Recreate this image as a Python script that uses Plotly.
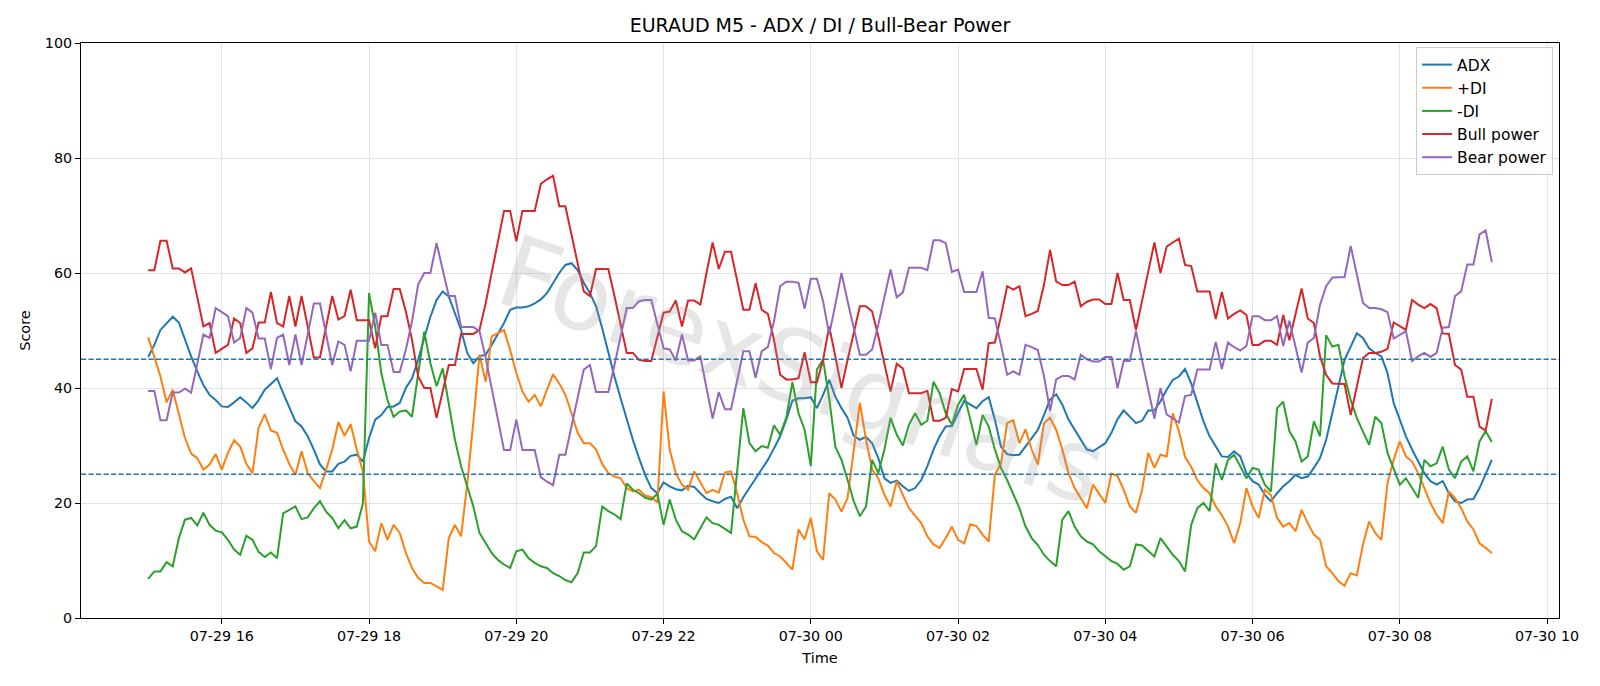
import pandas as pd
import plotly.graph_objects as go

start_time = "2024-07-29 15:00"
n_bars = 220
times = pd.date_range(start_time, periods=n_bars, freq="5min")

adx = [45.4, 47.5, 50.1, 51.2, 52.4, 51.4, 48.4, 45.5, 42.9, 40.5, 38.8, 37.9, 36.8, 36.7, 37.5, 38.4, 37.5, 36.5, 37.9, 39.7,
       40.7, 41.7, 39.1, 36.8, 34.2, 33.3, 31.6, 29.3, 26.7, 25.5, 25.5, 26.8, 27.2, 28.2, 28.4, 27.2, 31.3, 34.5, 35.3, 36.7,
       36.8, 37.4, 40.0, 41.7, 44.9, 48.7, 52.4, 55.3, 56.8, 55.9, 53.0, 50.1, 46.1, 44.3, 45.5, 45.8, 47.5, 49.5, 51.3, 53.6,
       54.0, 54.0, 54.2, 54.7, 55.4, 56.5, 58.2, 60.0, 61.4, 61.7, 60.5, 58.3, 56.5, 54.2, 50.4, 46.1, 42.0, 38.2, 34.5, 31.0,
       27.8, 24.9, 22.6, 21.7, 23.6, 22.9, 22.4, 22.2, 23.0, 22.8, 21.7, 20.7, 20.3, 20.0, 20.7, 21.1, 19.1, 21.0, 22.6, 24.2,
       25.8, 27.5, 29.5, 31.6, 34.5, 37.8, 38.2, 38.2, 38.4, 36.5, 38.8, 41.4, 38.5, 36.5, 34.8, 31.7, 31.0, 31.5, 30.4, 27.8,
       24.3, 23.5, 23.9, 22.9, 22.1, 22.6, 24.0, 26.4, 29.3, 31.6, 33.3, 33.4, 35.6, 37.8, 37.1, 36.5, 37.7, 38.4, 34.5, 29.8,
       28.5, 28.3, 28.4, 29.8, 31.3, 32.7, 35.3, 38.0, 38.9, 37.1, 34.5, 32.7, 31.0, 29.3, 29.0, 29.7, 30.4, 32.2, 34.6, 36.1,
       35.0, 33.9, 34.3, 36.1, 36.1, 37.7, 39.7, 41.4, 42.0, 43.3, 40.8, 37.7, 34.2, 31.6, 29.8, 28.1, 28.0, 29.0, 28.1, 25.2,
       23.8, 23.2, 21.4, 20.3, 21.7, 22.9, 23.8, 24.9, 24.3, 24.6, 26.1, 27.8, 31.0, 35.6, 40.3, 44.9, 47.2, 49.5, 48.7, 46.9,
       46.1, 45.5, 42.6, 37.4, 34.5, 31.6, 29.3, 27.2, 25.2, 23.8, 23.2, 23.8, 21.7, 20.3, 20.0, 20.6, 20.7, 22.6, 25.2, 27.5]

plus_di = [48.8, 45.5, 42.0, 37.5, 39.7, 35.5, 31.3, 28.6, 27.8, 25.8, 26.7, 28.5, 25.8, 28.7, 30.9, 29.8, 26.8, 25.2, 33.1, 35.4,
           32.6, 32.2, 29.3, 26.8, 24.9, 29.0, 25.2, 23.8, 22.6, 25.8, 29.3, 34.1, 31.7, 33.7, 29.3, 25.5, 13.3, 11.6, 16.5, 13.6,
           16.2, 14.8, 11.3, 8.7, 7.0, 6.1, 6.1, 5.5, 4.9, 13.9, 16.2, 14.2, 23.3, 34.1, 45.8, 41.1, 49.0, 49.5, 50.1, 46.6,
           42.6, 39.4, 37.6, 38.8, 36.8, 39.7, 42.4, 40.8, 38.8, 35.6, 32.2, 30.4, 30.4, 29.3, 26.8, 25.2, 24.6, 24.3, 22.6, 22.0,
           22.3, 21.3, 21.0, 20.1, 39.4, 29.3, 25.2, 23.2, 22.3, 25.5, 23.5, 21.7, 22.3, 21.8, 25.3, 25.5, 21.7, 17.1, 14.2, 14.1,
           13.2, 12.6, 11.3, 10.7, 9.6, 8.4, 15.4, 13.7, 17.4, 11.6, 10.1, 21.7, 20.6, 18.5, 20.9, 29.3, 37.4, 31.0, 25.8, 24.3,
           21.4, 19.4, 23.8, 21.4, 19.1, 17.8, 16.5, 14.2, 12.8, 12.2, 13.9, 15.9, 13.6, 13.0, 16.3, 16.0, 14.5, 13.3, 24.9, 26.9,
           33.9, 34.4, 30.4, 32.8, 29.3, 26.7, 33.9, 34.8, 32.7, 29.3, 25.2, 22.6, 20.9, 19.1, 23.2, 21.7, 20.0, 25.1, 24.7, 22.3,
           19.4, 18.3, 22.3, 28.7, 26.1, 28.4, 28.1, 35.6, 32.5, 28.0, 26.3, 24.0, 22.6, 21.7, 19.4, 17.9, 15.9, 13.0, 16.5, 22.6,
           19.4, 17.4, 22.3, 21.4, 17.4, 15.9, 16.5, 15.1, 18.8, 16.5, 14.5, 13.6, 9.0, 7.8, 6.4, 5.6, 7.8, 7.4, 12.8, 16.8,
           14.8, 13.6, 23.5, 27.5, 30.7, 28.1, 27.2, 25.2, 22.6, 20.0, 18.0, 16.5, 22.0, 20.9, 19.1, 16.8, 15.4, 13.0, 12.2, 11.3]

minus_di = [6.8, 8.1, 8.1, 9.7, 9.0, 13.9, 17.1, 17.4, 16.1, 18.3, 16.2, 15.2, 14.9, 13.6, 11.9, 11.0, 14.3, 13.6, 11.5, 10.6,
            11.4, 10.4, 18.2, 18.8, 19.4, 17.2, 17.5, 19.1, 20.3, 18.5, 17.4, 15.6, 17.0, 15.6, 15.9, 19.9, 56.5, 50.7, 42.6, 37.9,
            35.0, 35.9, 36.1, 35.0, 42.3, 49.8, 44.3, 40.3, 43.4, 37.1, 31.0, 26.4, 22.9, 19.4, 14.8, 13.0, 11.3, 10.1, 9.3, 8.7,
            11.6, 11.9, 10.4, 9.6, 9.0, 8.7, 7.8, 7.3, 6.6, 6.2, 7.8, 11.4, 11.4, 12.5, 19.4, 18.6, 18.0, 17.2, 23.4, 22.3,
            21.7, 20.9, 20.6, 21.6, 16.2, 20.6, 17.1, 15.1, 14.5, 13.7, 15.7, 17.5, 16.5, 16.2, 15.5, 14.8, 25.6, 36.5, 30.4, 29.0,
            29.9, 29.6, 33.5, 31.9, 34.8, 41.0, 35.6, 32.7, 26.4, 43.2, 44.9, 38.2, 29.8, 27.5, 24.0, 20.3, 17.7, 19.4, 27.5, 25.2,
            29.3, 34.8, 31.9, 30.0, 33.6, 35.6, 33.6, 34.3, 41.1, 39.1, 35.6, 33.6, 37.1, 38.8, 34.5, 30.1, 35.3, 33.3, 29.3, 26.1,
            24.0, 21.7, 19.1, 15.9, 13.9, 12.7, 11.0, 9.9, 9.0, 17.1, 18.6, 15.9, 14.2, 13.3, 12.8, 11.6, 10.7, 9.9, 9.4, 8.4,
            9.0, 12.8, 12.6, 11.6, 10.7, 13.9, 12.5, 11.0, 9.9, 8.1, 16.2, 19.1, 20.0, 18.6, 26.9, 24.0, 27.5, 28.4, 26.4, 24.3,
            26.1, 25.8, 23.2, 22.0, 36.5, 37.6, 32.5, 30.7, 27.2, 28.1, 34.2, 31.6, 49.2, 47.2, 47.5, 42.0, 37.9, 34.8, 32.4, 30.1,
            35.0, 33.9, 28.7, 25.8, 23.2, 24.3, 22.6, 20.9, 27.5, 26.4, 26.9, 29.8, 25.8, 24.3, 27.2, 28.1, 25.5, 30.7, 32.5, 30.6]

bull_power = [60.5, 60.5, 65.6, 65.6, 60.8, 60.8, 60.1, 60.8, 55.8, 50.7, 51.3, 46.1, 46.8, 47.5, 52.1, 51.3, 46.1, 46.9, 51.4, 51.4,
              56.7, 51.3, 50.7, 56.0, 50.7, 56.0, 50.7, 45.3, 45.3, 50.7, 56.0, 51.9, 52.5, 57.1, 51.8, 51.8, 51.8, 46.9, 52.5, 52.5,
              57.2, 57.2, 53.3, 48.4, 42.0, 40.0, 40.0, 34.8, 39.7, 44.0, 44.0, 49.4, 49.4, 49.4, 50.1, 54.7, 60.1, 65.3, 70.8, 70.8,
              65.5, 70.8, 70.8, 70.8, 75.5, 76.3, 76.9, 71.6, 71.6, 66.9, 61.7, 56.8, 56.0, 60.7, 60.7, 60.7, 56.0, 51.0, 46.1, 46.1,
              44.9, 44.7, 44.7, 48.9, 53.1, 53.3, 55.2, 50.7, 55.2, 55.2, 54.5, 60.0, 65.3, 60.7, 63.7, 63.7, 58.5, 53.6, 53.6, 58.2,
              53.6, 52.9, 48.4, 42.3, 41.5, 41.5, 41.7, 46.2, 41.0, 41.0, 44.9, 50.7, 45.5, 40.0, 44.9, 49.5, 54.2, 54.2, 53.3, 49.0,
              44.3, 39.4, 44.2, 43.4, 39.1, 39.1, 39.1, 39.5, 34.3, 34.3, 34.8, 39.8, 39.4, 43.3, 43.3, 43.3, 39.7, 47.8, 47.9, 52.5,
              57.7, 57.1, 57.7, 52.5, 52.9, 53.4, 57.9, 64.0, 58.5, 57.9, 57.9, 58.5, 54.2, 55.0, 55.4, 55.4, 54.6, 54.6, 60.0, 55.3,
              55.3, 50.1, 55.2, 60.2, 65.3, 60.0, 64.6, 65.3, 66.0, 61.4, 61.2, 56.8, 56.8, 56.8, 52.0, 56.7, 52.1, 52.9, 53.5, 52.7,
              47.5, 47.5, 48.2, 48.2, 47.5, 52.7, 48.3, 52.7, 57.3, 52.1, 51.3, 45.5, 42.3, 40.8, 40.7, 40.7, 35.3, 40.0, 45.2, 46.1,
              46.1, 46.3, 46.8, 51.4, 50.7, 50.1, 55.3, 54.5, 53.9, 54.6, 53.9, 49.5, 49.4, 44.0, 43.2, 38.5, 38.5, 33.3, 32.6, 38.1]

bear_power = [39.5, 39.5, 34.4, 34.4, 39.2, 39.2, 39.9, 39.2, 44.2, 49.3, 48.7, 53.9, 53.2, 52.5, 47.9, 48.7, 53.9, 53.1, 48.6, 48.6,
              43.3, 48.7, 49.3, 44.0, 49.3, 44.0, 49.3, 54.7, 54.7, 49.3, 44.0, 48.1, 47.5, 42.9, 48.2, 48.2, 48.2, 53.1, 47.5, 47.5,
              42.8, 42.8, 46.7, 51.6, 58.0, 60.0, 60.0, 65.2, 60.3, 56.0, 56.0, 50.6, 50.6, 50.6, 49.9, 45.3, 39.9, 34.7, 29.2, 29.2,
              34.5, 29.2, 29.2, 29.2, 24.5, 23.7, 23.1, 28.4, 28.4, 33.1, 38.3, 43.2, 44.0, 39.3, 39.3, 39.3, 44.0, 49.0, 53.9, 53.9,
              55.1, 55.3, 55.3, 51.1, 46.9, 46.7, 44.8, 49.3, 44.8, 44.8, 45.5, 40.0, 34.7, 39.3, 36.3, 36.3, 41.5, 46.4, 46.4, 41.8,
              46.4, 47.1, 51.6, 57.7, 58.5, 58.5, 58.3, 53.8, 59.0, 59.0, 55.1, 49.3, 54.5, 60.0, 55.1, 50.5, 45.8, 45.8, 46.7, 51.0,
              55.7, 60.6, 55.8, 56.6, 60.9, 60.9, 60.9, 60.5, 65.7, 65.7, 65.2, 60.2, 60.6, 56.7, 56.7, 56.7, 60.3, 52.2, 52.1, 47.5,
              42.3, 42.9, 42.3, 47.5, 47.1, 46.6, 42.1, 36.0, 41.5, 42.1, 42.1, 41.5, 45.8, 45.0, 44.6, 44.6, 45.4, 45.4, 40.0, 44.7,
              44.7, 49.9, 44.8, 39.8, 34.7, 40.0, 35.4, 34.7, 34.0, 38.6, 38.8, 43.2, 43.2, 43.2, 48.0, 43.3, 47.9, 47.1, 46.5, 47.3,
              52.5, 52.5, 51.8, 51.8, 52.5, 47.3, 51.7, 47.3, 42.7, 47.9, 48.7, 54.5, 57.7, 59.2, 59.3, 59.3, 64.7, 60.0, 54.8, 53.9,
              53.9, 53.7, 53.2, 48.6, 49.3, 49.9, 44.7, 45.5, 46.1, 45.4, 46.1, 50.5, 50.6, 56.0, 56.8, 61.5, 61.5, 66.7, 67.4, 61.9]

series = [
    ("ADX", adx, "#1f77b4"),
    ("+DI", plus_di, "#ff7f0e"),
    ("-DI", minus_di, "#2ca02c"),
    ("Bull power", bull_power, "#d62728"),
    ("Bear power", bear_power, "#9467bd"),
]

levels = [25, 45]
y_ticks = [0, 20, 40, 60, 80, 100]
title_text = "EURAUD M5 - ADX / DI / Bull-Bear Power"
watermark = "ForexSignals"

FONT = "DejaVu Sans, Liberation Sans, sans-serif"

fig = go.Figure()
for name, vals, color in series:
    fig.add_trace(go.Scatter(x=times, y=vals, mode="lines", name=name,
                             line=dict(color=color, width=2)))

for lv in levels:
    fig.add_shape(type="line", xref="paper", x0=0, x1=1, yref="y", y0=lv, y1=lv,
                  line=dict(color="#1f77b4", width=1.4, dash="5.2px,2.3px"), layer="above")

span = times[-1] - times[0]
pad = span * 0.05
x_range = [times[0] - pad, times[-1] + pad]

fig.add_annotation(text=watermark, xref="paper", yref="paper", x=0.488, y=0.43,
                   showarrow=False, textangle=19,
                   font=dict(family=FONT, size=100, color="rgba(150,150,150,0.24)"))

fig.update_layout(
    width=1600, height=686,
    margin=dict(l=81, r=41, t=43, b=68),
    paper_bgcolor="white", plot_bgcolor="white",
    font=dict(family=FONT, size=14, color="black"),
    title=dict(text=title_text, x=0.5, xref="paper", xanchor="center",
               y=1 - 25.5 / 686, yref="container", yanchor="middle",
               font=dict(size=19, color="black")),
    showlegend=True,
    legend=dict(x=0.996, y=0.993, xanchor="right", yanchor="top",
                bgcolor="rgba(255,255,255,0.85)", bordercolor="#cccccc", borderwidth=1,
                font=dict(size=15.5), tracegroupgap=0),
)

fig.update_xaxes(
    type="date", range=x_range,
    tick0="2024-07-29 00:00", dtick=2 * 3600 * 1000, tickformat="%m-%d %H",
    showline=True, linecolor="black", linewidth=1.1, mirror=True,
    ticks="outside", ticklen=5, tickwidth=1.1, tickcolor="black",
    showgrid=True, gridcolor="rgba(176,176,176,0.35)", gridwidth=1.1,
    zeroline=False,
    title=dict(text="Time", standoff=9, font=dict(size=14.5)),
    tickfont=dict(size=14.3),
)
fig.update_yaxes(
    range=[0, 100], tickvals=y_ticks,
    showline=True, linecolor="black", linewidth=1.1, mirror=True,
    ticks="outside", ticklen=5, tickwidth=1.1, tickcolor="black",
    showgrid=True, gridcolor="rgba(176,176,176,0.35)", gridwidth=1.1,
    zeroline=False,
    title=dict(text="Score", standoff=10, font=dict(size=14.5)),
    tickfont=dict(size=14.3),
)

fig.write_html("out.html")
